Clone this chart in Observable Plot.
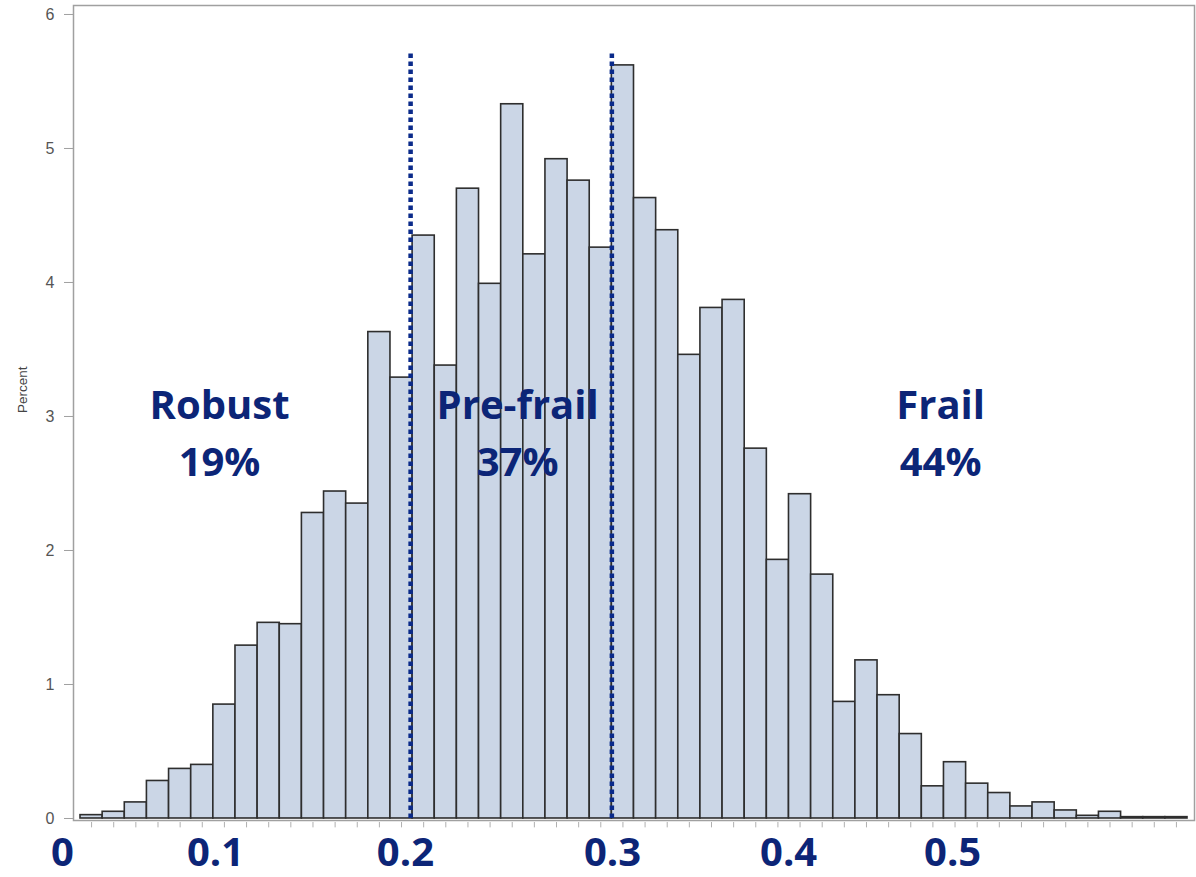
<!DOCTYPE html>
<html>
<head>
<meta charset="utf-8">
<script src="https://cdn.jsdelivr.net/npm/d3@7"></script>
<script src="https://cdn.jsdelivr.net/npm/@observablehq/plot@0.6"></script>
<style>
  html, body { margin: 0; padding: 0; background: #fff; }
  #chart svg { display: block; }
</style>
</head>
<body>
<div id="chart"></div>
<script>
// Histogram of frailty index: 50 uniform bins
const binStart = 1 / 30;
const binWidth = 1 / 90;
const percent = [
  0.025, 0.05, 0.12, 0.28, 0.37, 0.40, 0.85, 1.29, 1.46, 1.45,
  2.28, 2.44, 2.35, 3.63, 3.29, 4.35, 3.38, 4.70, 3.99, 5.33,
  4.21, 4.92, 4.76, 4.26, 5.62, 4.63, 4.39, 3.46, 3.81, 3.87,
  2.76, 1.93, 2.42, 1.82, 0.87, 1.18, 0.92, 0.63, 0.24, 0.42,
  0.26, 0.19, 0.09, 0.12, 0.06, 0.02, 0.05, 0.01, 0.01, 0.01
];
const yTicks = [0, 1, 2, 3, 4, 5, 6];

// Cut-off lines (dotted)
const cutoffs = [0.199, 0.3];
const cutoffTop = [5.73, 5.71];

// Group annotations
const groupNames = ["Robust", "Pre-frail", "Frail"];
const groupShares = ["19%", "37%", "44%"];
const groupX = [0.1031, 0.2527, 0.465];

// Hand-placed x labels
const xLabels = ["0", "0.1", "0.2", "0.3", "0.4", "0.5"];
const xLabelPos = [0.0243, 0.1011, 0.1964, 0.3003, 0.3887, 0.4710];

const bins = percent.map((v, i) => ({
  x1: binStart + i * binWidth,
  x2: binStart + (i + 1) * binWidth,
  mid: binStart + (i + 0.5) * binWidth,
  v
}));

const navy = "#0c2577";
const dotBlue = "#0a2a8a";
const bigFont = "'Open Sans', Lato, sans-serif";

const chart = Plot.plot({
  width: 1196,
  height: 877,
  marginLeft: 73,
  marginRight: 2,
  marginTop: 5,
  marginBottom: 57,
  style: { fontFamily: "'Liberation Sans', Arial, sans-serif", background: "#fff" },
  x: { domain: [0.02982, 0.5924], axis: null },
  y: { domain: [-0.015, 6.067], axis: null },
  marks: [
    Plot.rectY(bins, {
      x1: "x1", x2: "x2", y1: 0, y2: "v",
      fill: "#cbd6e6", stroke: "#2e2e2e", strokeWidth: 1.6
    }),
    Plot.frame({ stroke: "#a0a0a0", strokeWidth: 1.5 }),
    Plot.axisY({
      ticks: yTicks, tickFormat: "d", tickSize: 9, tickPadding: 10,
      stroke: "#a0a0a0", fill: "#555", fontSize: 16, label: null
    }),
    Plot.ruleX(bins, { x: "mid", y1: -0.03, y2: -0.07, stroke: "#b0b0b0", strokeWidth: 1 }),
    Plot.text(["Percent"], {
      frameAnchor: "left", dx: -51, rotate: -90,
      fontSize: 13.5, fill: "#444"
    }),
    Plot.ruleX(cutoffs, {
      x: d => d, y1: 0, y2: (d, i) => cutoffTop[i],
      stroke: dotBlue, strokeWidth: 4.5, strokeDasharray: "4.5,3.5"
    }),
    Plot.text(groupNames, {
      x: (d, i) => groupX[i], y: 3.075,
      fontFamily: bigFont, fontWeight: "bold",
      fontSize: 40, fill: navy
    }),
    Plot.text(groupShares, {
      x: (d, i) => groupX[i], y: 2.65,
      fontFamily: bigFont, fontWeight: "bold",
      fontSize: 40, fill: navy
    }),
    Plot.text(xLabels, {
      x: (d, i) => xLabelPos[i], frameAnchor: "bottom", dy: 45,
      fontFamily: bigFont, fontWeight: "bold",
      fontSize: 40, fill: navy
    })
  ]
});
document.getElementById("chart").appendChild(chart);
</script>
</body>
</html>
